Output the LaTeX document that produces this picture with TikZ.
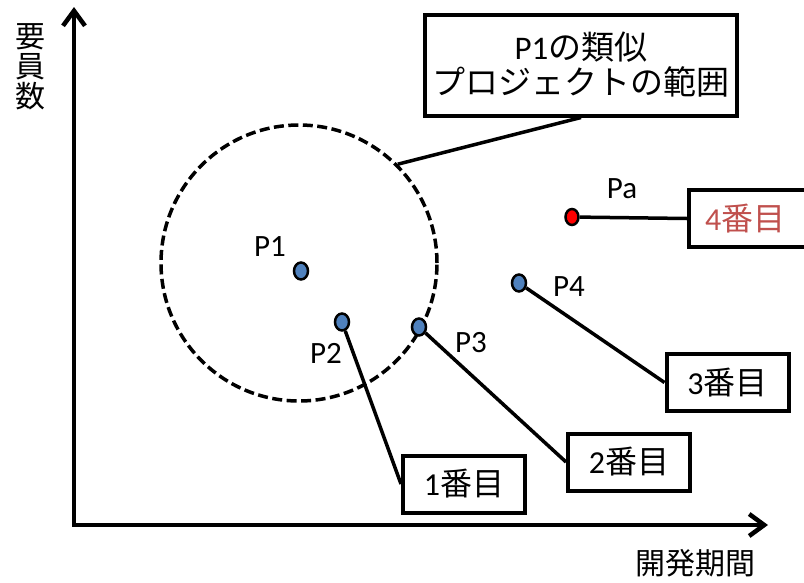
\documentclass[tikz,border=0pt]{standalone}
\usepackage{fontspec}
\setmainfont{Carlito}
\newfontfamily\jp{Noto Sans CJK JP}
\usetikzlibrary{arrows.meta,shapes.geometric}
\definecolor{ptblue}{HTML}{4F81BD}
\definecolor{numred}{HTML}{C0504D}
\definecolor{ptred}{HTML}{FF0000}
\begin{document}
\begin{tikzpicture}[x=1pt,y=-1pt,
  axis/.style={line width=4.5pt,{Straight Barb[length=15pt,width=22pt,line width=4.5pt]}-{Straight Barb[length=15pt,width=22pt,line width=4.5pt]}},
  dot/.style={ellipse,draw=black,line width=2.5pt,fill=ptblue,minimum width=14pt,minimum height=17pt,inner sep=0pt},
  numbox/.style={draw=black,line width=4pt,minimum width=122pt,minimum height=57pt,inner sep=0pt,font=\fontsize{32}{36}\selectfont},
  conn/.style={line width=3.5pt},
  lbl/.style={font=\fontsize{31}{34}\selectfont,inner sep=0pt},
  axlbl/.style={font=\jp\fontsize{30}{32}\selectfont,inner sep=0pt,align=center},
]
\useasboundingbox (0,0) rectangle (804,582);
% axes
\coordinate (O) at (74,525);
\coordinate (Ytop) at (74,7);
\coordinate (Xend) at (768,525);
\draw[axis] (Ytop) -- (O) -- (Xend);
\node[axlbl] (ylab) at (31,67) {要\\[-2pt]員\\[-2pt]数};
\node[axlbl] (xlab) at (695,563) {開発期間};
% range circle
\node[circle,draw=black,dashed,dash pattern=on 10pt off 4.5pt,line width=3.5pt,minimum size=276pt,inner sep=0pt] (range) at (299,263) {};
% callout
\node[draw=black,line width=4pt,minimum width=312pt,minimum height=101pt,inner sep=0pt,align=center,font=\fontsize{33}{35}\selectfont] (callout) at (581,65) {P1{\jp の類似}\\{\jp プロジェクトの範囲}};
\draw[conn] (callout.south) -- (range.45);
% points
\node[dot] (p1) at (301,271) {};
\node[dot] (p2) at (342,322) {};
\node[dot] (p3) at (419,327) {};
\node[dot] (p4) at (519,283) {};
\node[dot,fill=ptred,minimum width=13pt,minimum height=16pt] (pa) at (572,217) {};
% labels
\node[lbl] (l1) at (270,247) {P1};
\node[lbl] (l2) at (326,353) {P2};
\node[lbl] (l3) at (471,343) {P3};
\node[lbl] (l4) at (569,287) {P4};
\node[lbl] (la) at (622,189) {Pa};
% rank boxes
\node[numbox] (b1) at (464,484) {1{\jp 番目}};
\node[numbox] (b2) at (629,462) {2{\jp 番目}};
\node[numbox] (b3) at (727.5,382.5) {3{\jp 番目}};
\node[numbox,text=numred,minimum height=57pt,text width=118pt,align=left] (b4) at (750,218.5) {\hspace{14pt}4{\jp 番目}};
% connectors
\draw[conn] (p2) -- (b1.west);
\draw[conn] (p3) -- (b2.west);
\draw[conn] (p4) -- (b3.west);
\draw[conn] (pa) -- (b4.west);
\end{tikzpicture}
\end{document}
